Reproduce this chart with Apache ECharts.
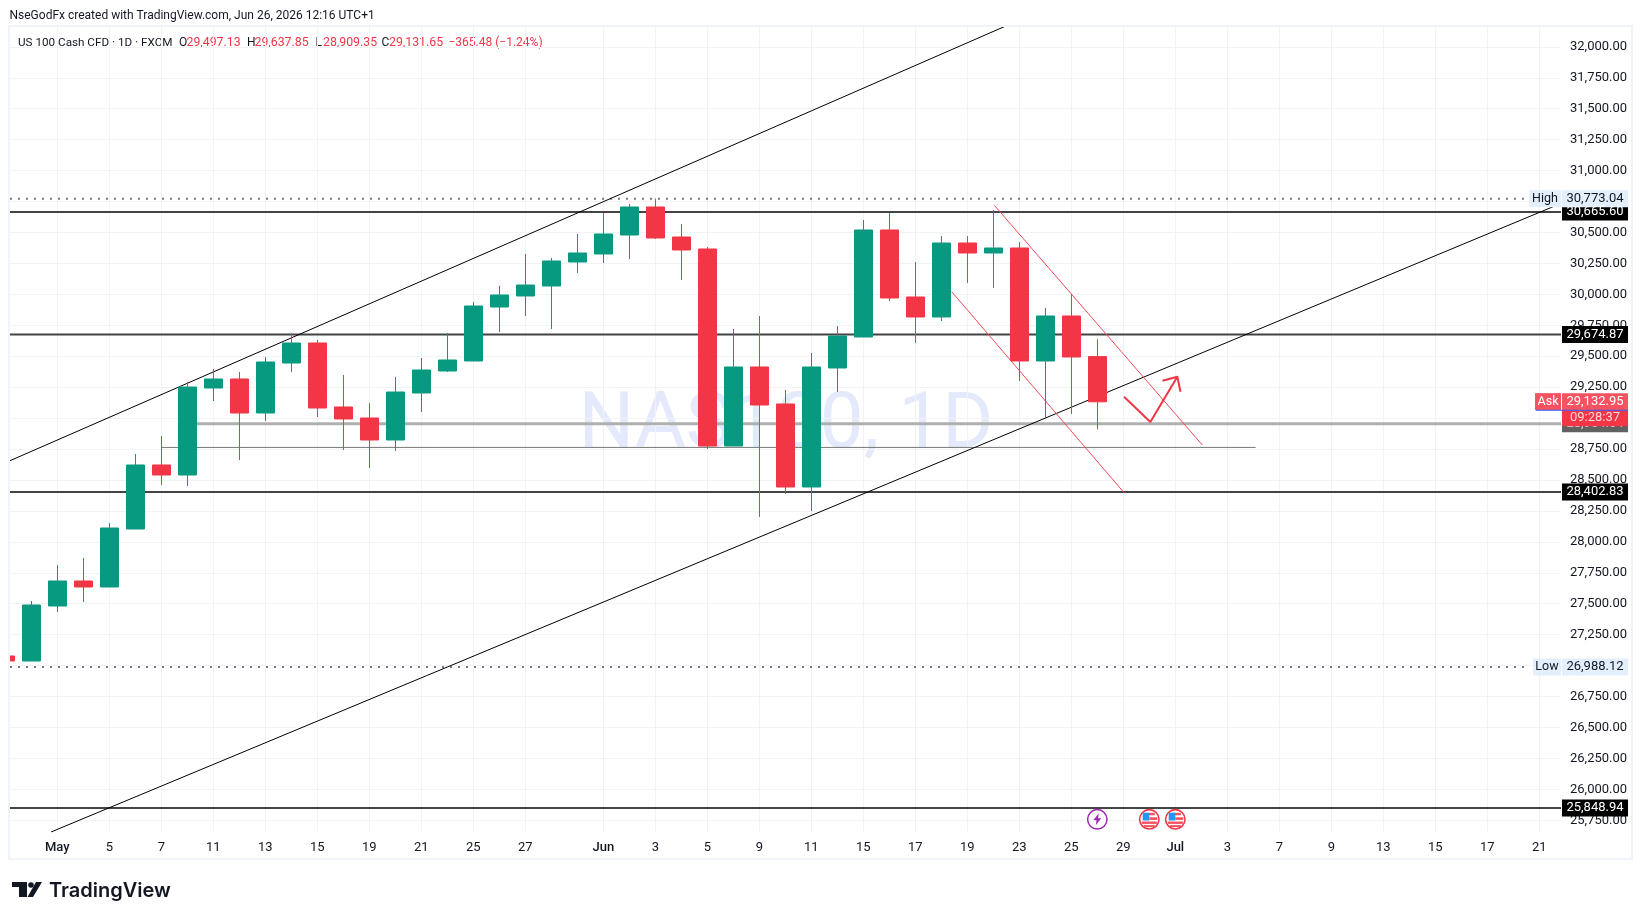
<!DOCTYPE html>
<html><head><meta charset="utf-8">
<style>html,body{margin:0;padding:0;background:#fff}#c{width:1643px;height:920px}</style>
<script src="https://cdn.jsdelivr.net/npm/echarts@6/dist/echarts.min.js"></script>
</head><body><div id="c"></div>
<script>
// Candles: index in these arrays is the trading-day position on the x axis
const opens  = [27077.5,27037.1,27481.5,27683.6,27635,28103.8,28621,28540.2,29243.2,29316,29041.2,29445.3,29606.9,29089.7,29000.8,28823,29202.8,29380.6,29461.5,29897.9,29986.7,30067.5,30261.5,30326.2,30479.7,30706,30463.6,30366.6,28774.5,29413,29114,28443.2,29404.9,29655.4,30520.1,29978.7,29817.1,30415,30334.3,30374.7,29461.5,29825.1,29497.13];
const closes = [27037.1,27489.6,27683.6,27635,28111.9,28621,28540.2,29251.3,29316,29041.2,29453.4,29606.9,29081.6,28992.7,28823,29210.9,29388.7,29469.6,29905.9,29994.8,30075.6,30269.6,30334.3,30487.8,30706,30455.5,30358.5,28774.5,29413,29105.9,28443.2,29413,29663.5,30520.1,29970.6,29817.1,30415,30334.3,30374.7,29461.5,29825.1,29493.8,29131.65];
const lows   = [27037,27037.1,27433,27513.9,27635,28103.8,28459.4,28451.3,29138,28661.4,28976.6,29372.6,29008.9,28742.2,28596.8,28734.2,29049.3,29372.6,29461.5,29695.9,29825.1,29720.1,30172.6,30253.4,30285.8,30447.4,30116,28750.3,28774.5,28200.8,28386.6,28249.2,29210.9,29655.4,29946.4,29606.9,29784.7,30091.8,30051.4,29299.8,28992.7,29033.2,28909.35];
const highs  = [27077.5,27522,27812.8,27869.4,28152.3,28709.9,28855.4,29291.7,29396.8,29372.6,29493.8,29687.7,29631.2,29348.3,29122,29332.2,29485.7,29687.7,29938.3,30067.5,30326.2,30293.9,30487.8,30657.5,30730.3,30773.04,30568.6,30382.8,29720.1,29825.1,29227,29526.1,29744.3,30601,30657.5,30261.5,30471.6,30471.6,30681.8,30423.2,29889.8,30002.9,29637.85];

// Axes
const xMin = 0.1808, xMax = 59.835, yMin = 25655.1, yMax = 32168.7;
const xTickIndex = [2,4,6,8,10,12,14,16,18,20,23,25,27,29,31,33,35,37,39,41,43,45,47,49,51,53,55,57,59];
const xTickText  = ['May','5','7','11','13','15','19','21','25','27','Jun','3','5','9','11','15','17','19','23','25','29','Jul','3','7','9','13','15','17','21'];
const yTicks = [25750,26000,26250,26500,26750,27000,27250,27500,27750,28000,28250,28500,28750,29000,29250,29500,29750,30000,30250,30500,30750,31000,31250,31500,31750,32000];

// Levels and drawings
const blackLevels = [30665.60,29674.87,28402.83,25848.94];
const dottedLevels = [30773.04,26988.12];
const greyThick = [[7,28954.64],[xMax,28954.64]];
const greyThin = [[6,28763],[48.09,28763]];
const upperChannel = [[xMin,28655.8],[38.48,32168.7]];
const lowerChannel = [[1.758,25655.1],[59.53,30708.4]];
const redUpper = [[38.04,30719.7],[46.04,28782.6]];
const redLower = [[36.4,30021.6],[43.03,28397.2]];
const redArrow = [[43.03,29173],[44.04,28968.6],[45.08,29334.6]];
const redArrowHead = [[44.51,29302.3],[45.08,29334.6],[45.2,29213.4]];
const events = [[42,25757.7,'bolt'],[44,25757.7,'flag'],[45,25757.7,'flag']];
const askPrice = 29132.95;

// Texts
const creditText = 'NseGodFx created with TradingView.com, Jun 26, 2026 12:16 UTC+1';
const symbolText = 'US 100 Cash CFD · 1D · FXCM';
const ohlcLetters = ['O','H','L','C'];
const ohlcValues = ['29,497.13','29,637.85','28,909.35','29,131.65'];
const changeText = '−365.48 (−1.24%)';
const watermark = 'NAS100, 1D';
const countdown = '09:28:37';

const GREEN = '#089981', RED = '#f23645', FONT = 'Roboto, sans-serif', GRID = '#f2f3f5';

const fmt = v => v.toLocaleString('en-US',{minimumFractionDigits:2,maximumFractionDigits:2});
const candles = opens.map((o,i)=>[i,o,closes[i],lows[i],highs[i]]);

function lineSeries(name,data,color,width,type){
  return {name,type:'line',data,symbol:'none',silent:true,animation:false,
    lineStyle:{color,width,type:type||'solid'},z:1};
}
function tag(value,text,bg,color,dy,weight){
  return {coord:[xMax,value],symbol:'rect',symbolSize:[66,17],symbolOffset:[34,dy||0],
    itemStyle:{color:bg},
    label:{show:true,position:'inside',formatter:text,color,fontFamily:FONT,fontSize:13,fontWeight:weight||400}};
}
function sideTag(value,text,bg,color,w){
  return {coord:[xMax,value],symbol:'rect',symbolSize:[w,17],symbolOffset:[-w/2,0],
    itemStyle:{color:bg},
    label:{show:true,position:'inside',formatter:text,color,fontFamily:FONT,fontSize:12.5}};
}

const renderEvent = (params,api)=>{
  const p = api.coord([api.value(0),api.value(1)]);
  const kind = events[params.dataIndex][2];
  const x=p[0], y=p[1];
  if(kind==='bolt'){
    return {type:'group',children:[
      {type:'circle',shape:{cx:x,cy:y,r:9.7},style:{fill:'#fff',stroke:'#9c27b0',lineWidth:1.5}},
      {type:'polygon',shape:{points:[[x+1.5,y-6],[x-4,y+1],[x-0.7,y+1],[x-1.5,y+6],[x+4,y-1],[x+0.7,y-1]]},style:{fill:'#9c27b0'}}
    ]};
  }
  return {type:'group',children:[
    {type:'circle',shape:{cx:x,cy:y,r:9.7},style:{fill:'#fff',stroke:RED,lineWidth:1.6}},
    {type:'rect',shape:{x:x-1,y:y-6.5,width:6.5,height:2.5},style:{fill:'#f7525f'}},
    {type:'rect',shape:{x:x,y:y-2,width:8,height:2.6},style:{fill:'#f7525f'}},
    {type:'rect',shape:{x:x-7.6,y:y+2.2,width:15.2,height:2.4},style:{fill:'#f7525f'}},
    {type:'rect',shape:{x:x-5.6,y:y+5.8,width:11.2,height:2},style:{fill:'#f7525f'}},
    {type:'rect',shape:{x:x-6.6,y:y-6.6,width:6.6,height:7.8},style:{fill:'#2196f3'}}
  ]};
};

const ohlcX = [179,247,315.5,381.5];
const graphics = [
  {type:'rect',z:20,silent:true,shape:{x:0,y:26,width:9,height:833},style:{fill:'#fff'}},
  {type:'rect',z:21,silent:true,shape:{x:9,y:26,width:1623,height:833},style:{fill:'transparent',stroke:'#f0f3fa',lineWidth:2}},
  {type:'text',z:0,silent:true,x:786,y:427,style:{text:watermark,font:'78px '+FONT,fill:'#e4e9fb',align:'center',verticalAlign:'middle'}},
  {type:'text',x:9.5,y:16,style:{text:creditText,font:'12px '+FONT,fill:'#131722',verticalAlign:'middle'}},
  {type:'text',x:18,y:43,style:{text:symbolText,font:'11.7px '+FONT,fill:'#131722',verticalAlign:'middle'}},
  {type:'text',x:448.5,y:43,style:{text:changeText,font:'12px '+FONT,fill:RED,verticalAlign:'middle'}},
  // TradingView logo
  {type:'polygon',silent:true,shape:{points:[[12,882],[27,882],[27,897],[19,897],[19,887],[12,887]]},style:{fill:'#131722'}},
  {type:'circle',silent:true,shape:{cx:31,cy:885,r:2.8},style:{fill:'#131722'}},
  {type:'polygon',silent:true,shape:{points:[[36,882],[42,882],[33,897],[27.5,897]]},style:{fill:'#131722'}},
  {type:'text',x:49,y:891,style:{text:'TradingView',font:'600 20px Inter, sans-serif',fill:'#131722',verticalAlign:'middle'}}
];
ohlcLetters.forEach((l,k)=>{
  graphics.push({type:'text',x:ohlcX[k],y:43,style:{text:l,font:'12px '+FONT,fill:'#131722',verticalAlign:'middle'}});
  graphics.push({type:'text',x:ohlcX[k]+7.5,y:43,style:{text:ohlcValues[k],font:'12.3px '+FONT,fill:RED,verticalAlign:'middle'}});
});

const chart = echarts.init(document.getElementById('c'));
const thick = lineSeries('thick',greyThick,'#b0b0b0',3);
thick.markPoint = {z:3,silent:true,animation:false,data:[tag(greyThick[0][1],fmt(greyThick[0][1]),'#616161','#ddd')]};
chart.setOption({
  animation:false,
  backgroundColor:'#fff',
  graphic:graphics,
  grid:{left:10,right:82,top:26,bottom:88,containLabel:false},
  xAxis:{type:'value',min:xMin,max:xMax,
    axisLine:{show:false},
    axisTick:{show:false,customValues:xTickIndex},
    splitLine:{show:true,lineStyle:{color:GRID,width:1}},
    axisLabel:{customValues:xTickIndex,margin:9,color:'#131722',fontFamily:FONT,fontSize:13,
      formatter:v=>{const t=xTickText[xTickIndex.indexOf(v)];return /^[A-Z]/.test(t)?'{b|'+t+'}':t;},
      rich:{b:{fontFamily:FONT,fontSize:13,fontWeight:500,color:'#131722'}}}
  },
  yAxis:{type:'value',position:'right',min:yMin,max:yMax,
    axisLine:{show:false},
    axisTick:{show:false,customValues:yTicks},
    splitLine:{show:true,lineStyle:{color:GRID,width:1}},
    axisLabel:{customValues:yTicks,margin:9,color:'#131722',fontFamily:FONT,fontSize:13,align:'left',formatter:v=>fmt(v)}
  },
  series:[
    thick,
    lineSeries('thin',greyThin,'#787878',1),
    ...dottedLevels.map((v,k)=>lineSeries('dot'+k,[[xMin,v],[xMax-1.4,v]],'#787b86',2,[2,6])),
    ...blackLevels.map((v,k)=>lineSeries('lvl'+k,[[xMin,v],[xMax,v]],'#434343',2)),
    lineSeries('upper',upperChannel,'#000',1),
    lineSeries('lower',lowerChannel,'#000',1),
    lineSeries('redU',redUpper,'#f04a58',1),
    lineSeries('redL',redLower,'#f04a58',1),
    lineSeries('arrow',redArrow,RED,2),
    lineSeries('arrowHead',redArrowHead,RED,2),
    {type:'candlestick',name:'US 100',data:candles,barWidth:18,z:3,silent:true,animation:false,clip:true,
      itemStyle:{color:GREEN,color0:RED,borderColor:GREEN,borderColor0:RED,borderWidth:1},
      markPoint:{z:6,silent:true,animation:false,data:[
        tag(blackLevels[0],fmt(blackLevels[0]),'#000','#fff'),
        tag(dottedLevels[0],fmt(dottedLevels[0]),'#e3effd','#131722'),
        sideTag(dottedLevels[0],'High','#e3effd','#131722',32),
        tag(blackLevels[1],fmt(blackLevels[1]),'#000','#fff'),
        tag(blackLevels[2],fmt(blackLevels[2]),'#000','#fff'),
        tag(blackLevels[3],fmt(blackLevels[3]),'#000','#fff'),
        tag(dottedLevels[1],fmt(dottedLevels[1]),'#e3effd','#131722'),
        sideTag(dottedLevels[1],'Low','#e3effd','#131722',28),
        tag(askPrice,countdown,RED,'#ffd6da',16),
        tag(askPrice,fmt(askPrice),'#f7525f','#fff'),
        sideTag(askPrice,'Ask','#f7525f','#fff',26),
        {coord:[xMax,askPrice],symbol:'rect',symbolSize:[92,1],symbolOffset:[21,8.5],itemStyle:{color:'#2962ff'},label:{show:false}}
      ]}},
    {type:'custom',name:'events',data:events.map(e=>[e[0],e[1]]),renderItem:renderEvent,silent:true,animation:false,z:4,clip:false}
  ]
});
</script></body></html>
